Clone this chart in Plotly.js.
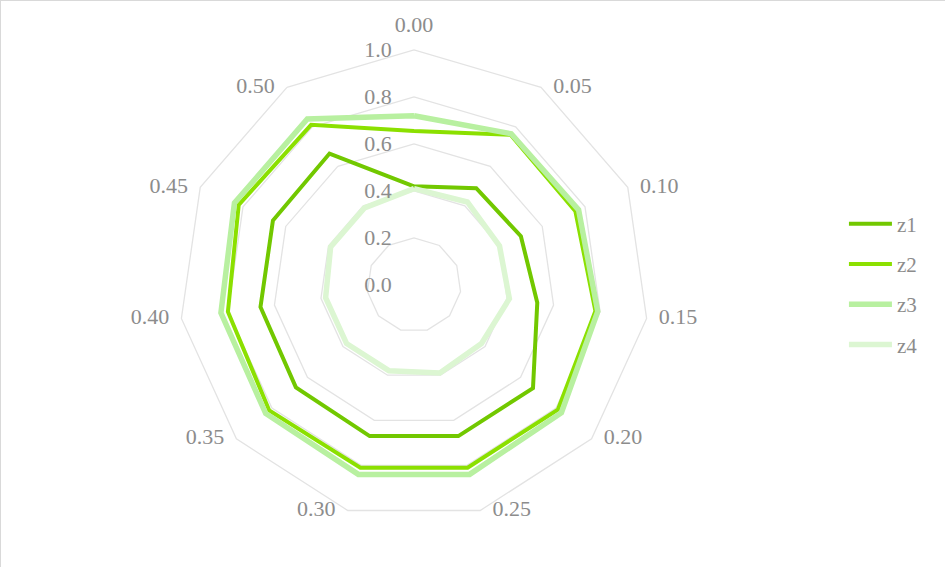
<!DOCTYPE html>
<html>
<head>
<meta charset="utf-8">
<script src="https://cdn.plot.ly/plotly-3.0.1.min.js"></script>
<style>
html,body{margin:0;padding:0;background:#fff;}
#chart{width:945px;height:567px;box-sizing:border-box;border:1px solid #d9d9d9;}
</style>
</head>
<body>
<div id="chart"></div>
<script>
const categories = ['0.00','0.05','0.10','0.15','0.20','0.25','0.30','0.35','0.40','0.45','0.50'];
const z1 = [0.42, 0.49, 0.50, 0.53, 0.67, 0.67, 0.67, 0.665, 0.66, 0.66, 0.665];
const z2 = [0.655, 0.76, 0.755, 0.78, 0.81, 0.81, 0.81, 0.815, 0.80, 0.82, 0.81];
const z3 = [0.72, 0.765, 0.77, 0.79, 0.83, 0.84, 0.84, 0.835, 0.83, 0.84, 0.84];
const z4 = [0.41, 0.42, 0.40, 0.41, 0.38, 0.39, 0.38, 0.38, 0.38, 0.39, 0.39];
const seriesNames = ['z1','z2','z3','z4'];
const radialTicks = [0, 0.2, 0.4, 0.6, 0.8, 1.0];
const radialTickText = ['0.0','0.2','0.4','0.6','0.8','1.0'];

const colors = ['#72c800','#8be000','#b8f0a0','#dcf6d2'];
const widths = [4, 4, 5.5, 5.5];
const seriesData = [z1, z2, z3, z4];

const traces = seriesData.map((vals, i) => ({
  type: 'scatterpolar',
  mode: 'lines',
  name: seriesNames[i],
  legendgroup: seriesNames[i],
  r: vals.concat([vals[0]]),
  theta: categories.concat([categories[0]]),
  line: {color: colors[i], width: widths[i]},
  hoverinfo: 'skip'
}));

// category labels placed just outside the outer ring, Excel style
const n = categories.length;
const labelPos = categories.map((c, i) => {
  if (i === 0) return 'top center';
  return i <= Math.floor(n / 2) ? 'middle right' : 'middle left';
});
traces.push({
  type: 'scatterpolar',
  mode: 'markers+text',
  r: categories.map(() => 1),
  theta: categories,
  text: categories,
  textposition: labelPos,
  marker: {size: 18, color: 'rgba(0,0,0,0)'},
  textfont: {family: '"Liberation Serif", "Times New Roman", serif', size: 22, color: '#8c8c8c'},
  cliponaxis: false,
  showlegend: false,
  hoverinfo: 'skip'
});

const layout = {
  width: 945, height: 567,
  margin: {l: 0, r: 0, t: 0, b: 0},
  paper_bgcolor: '#ffffff',
  font: {family: '"Liberation Serif", "Times New Roman", serif', size: 22, color: '#8c8c8c'},
  showlegend: true,
  legend: {
    x: 0.892, y: 0.5, xanchor: 'left', yanchor: 'middle',
    font: {size: 21, color: '#8c8c8c'},
    tracegroupgap: 10,
    itemwidth: 43,
    bgcolor: 'rgba(0,0,0,0)'
  },
  polar: {
    domain: {x: [0.18836, 0.68571], y: [0.08466, 0.91358]},
    bgcolor: '#ffffff',
    gridshape: 'linear',
    angularaxis: {
      type: 'category',
      categoryarray: categories,
      rotation: 90,
      direction: 'clockwise',
      showline: true,
      linecolor: '#e3e3e3',
      linewidth: 1.3,
      showgrid: false,
      ticks: '',
      showticklabels: false
    },
    radialaxis: {
      range: [0, 1],
      tickvals: radialTicks,
      ticktext: radialTickText,
      angle: 90,
      side: 'counterclockwise',
      tickangle: 90,
      showline: false,
      ticks: 'outside',
      ticklen: 14,
      tickcolor: 'rgba(0,0,0,0)',
      gridcolor: '#e3e3e3',
      gridwidth: 1.3,
      tickfont: {size: 22, color: '#8c8c8c'}
    }
  }
};

Plotly.newPlot('chart', traces, layout, {displayModeBar: false, staticPlot: true});
</script>
</body>
</html>
